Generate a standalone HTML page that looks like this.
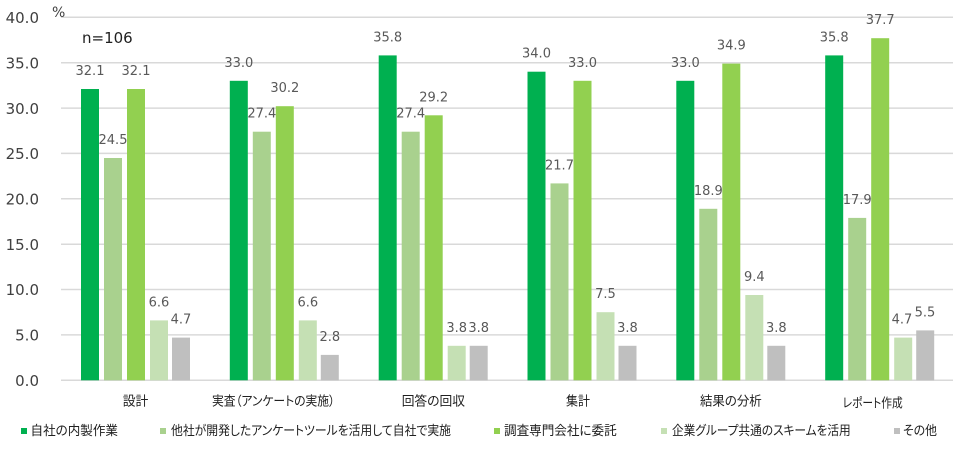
<!DOCTYPE html>
<html><head><meta charset="utf-8"><style>
html,body{margin:0;padding:0;background:#fff;}
svg{display:block;}
.t{font-family:"DejaVu Sans","Liberation Sans",sans-serif;}
.j{font-family:"Liberation Sans","Noto Sans CJK JP",sans-serif;font-feature-settings:"palt" 1;}
</style></head><body>
<svg width="965" height="449" viewBox="0 0 965 449" xmlns="http://www.w3.org/2000/svg">
<g stroke="#d9d9d9" stroke-width="1.5">
<line x1="61" x2="953" y1="17.3" y2="17.3"/>
<line x1="61" x2="953" y1="62.7" y2="62.7"/>
<line x1="61" x2="953" y1="108.1" y2="108.1"/>
<line x1="61" x2="953" y1="153.4" y2="153.4"/>
<line x1="61" x2="953" y1="198.8" y2="198.8"/>
<line x1="61" x2="953" y1="244.2" y2="244.2"/>
<line x1="61" x2="953" y1="289.5" y2="289.5"/>
<line x1="61" x2="953" y1="334.9" y2="334.9"/>
<line x1="61" x2="953" y1="380.3" y2="380.3"/>
</g>
<g class="t" font-size="15" fill="#404040" text-anchor="end">
<text x="39" y="23">40.0</text>
<text x="39" y="68.4">35.0</text>
<text x="39" y="113.8">30.0</text>
<text x="39" y="159.1">25.0</text>
<text x="39" y="204.5">20.0</text>
<text x="39" y="249.9">15.0</text>
<text x="39" y="295.2">10.0</text>
<text x="39" y="340.6">5.0</text>
<text x="39" y="386">0.0</text>
</g>
<text class="t" x="52" y="17" font-size="14" fill="#404040">%</text>
<text class="t" x="82" y="43" font-size="15" fill="#202020">n=106</text>
<g class="j" font-size="13" fill="#202020">
<text x="122.7" y="405.5" textLength="25.6" lengthAdjust="spacingAndGlyphs">設計</text>
<text x="212" y="405.5" textLength="123" lengthAdjust="spacingAndGlyphs">実査（アンケートの実施）</text>
<text x="401.7" y="405.5" textLength="63.3" lengthAdjust="spacingAndGlyphs">回答の回収</text>
<text x="566" y="405.5" textLength="24" lengthAdjust="spacingAndGlyphs">集計</text>
<text x="700" y="405.5" textLength="61.7" lengthAdjust="spacingAndGlyphs">結果の分析</text>
<text x="842.7" y="407.5" textLength="60" lengthAdjust="spacingAndGlyphs">レポート作成</text>
</g>
<g>
<rect x="21" y="428" width="6" height="6" fill="#00b050"/>
<rect x="160" y="428" width="6" height="6" fill="#a9d18e"/>
<rect x="494" y="428" width="6" height="6" fill="#92d050"/>
<rect x="661" y="428" width="6" height="6" fill="#c5e0b4"/>
<rect x="894" y="428" width="6" height="6" fill="#bfbfbf"/>
</g>
<g class="j" font-size="13" fill="#202020">
<text x="30.5" y="435" textLength="87.5" lengthAdjust="spacingAndGlyphs">自社の内製作業</text>
<text x="171" y="435" textLength="280" lengthAdjust="spacingAndGlyphs">他社が開発したアンケートツールを活用して自社で実施</text>
<text x="504" y="435" textLength="112.7" lengthAdjust="spacingAndGlyphs">調査専門会社に委託</text>
<text x="672" y="435" textLength="178.7" lengthAdjust="spacingAndGlyphs">企業グループ共通のスキームを活用</text>
<text x="903" y="435" textLength="34" lengthAdjust="spacingAndGlyphs">その他</text>
</g>
<g>
<rect x="81" y="89.0" width="18" height="291.3" fill="#00b050"/>
<rect x="104" y="158.0" width="18" height="222.3" fill="#a9d18e"/>
<rect x="127" y="89.0" width="18" height="291.3" fill="#92d050"/>
<rect x="150" y="320.4" width="18" height="59.9" fill="#c5e0b4"/>
<rect x="172" y="337.6" width="18" height="42.7" fill="#bfbfbf"/>

<rect x="229.8" y="80.8" width="18" height="299.5" fill="#00b050"/>
<rect x="252.8" y="131.7" width="18" height="248.6" fill="#a9d18e"/>
<rect x="275.8" y="106.2" width="18" height="274.1" fill="#92d050"/>
<rect x="298.8" y="320.4" width="18" height="59.9" fill="#c5e0b4"/>
<rect x="320.8" y="354.9" width="18" height="25.4" fill="#bfbfbf"/>

<rect x="378.7" y="55.4" width="18" height="324.9" fill="#00b050"/>
<rect x="401.7" y="131.7" width="18" height="248.6" fill="#a9d18e"/>
<rect x="424.7" y="115.3" width="18" height="265.0" fill="#92d050"/>
<rect x="447.7" y="345.8" width="18" height="34.5" fill="#c5e0b4"/>
<rect x="469.7" y="345.8" width="18" height="34.5" fill="#bfbfbf"/>

<rect x="527.5" y="71.7" width="18" height="308.6" fill="#00b050"/>
<rect x="550.5" y="183.4" width="18" height="196.9" fill="#a9d18e"/>
<rect x="573.5" y="80.8" width="18" height="299.5" fill="#92d050"/>
<rect x="596.5" y="312.2" width="18" height="68.1" fill="#c5e0b4"/>
<rect x="618.5" y="345.8" width="18" height="34.5" fill="#bfbfbf"/>

<rect x="676.3" y="80.8" width="18" height="299.5" fill="#00b050"/>
<rect x="699.3" y="208.8" width="18" height="171.5" fill="#a9d18e"/>
<rect x="722.3" y="63.6" width="18" height="316.7" fill="#92d050"/>
<rect x="745.3" y="295.0" width="18" height="85.3" fill="#c5e0b4"/>
<rect x="767.3" y="345.8" width="18" height="34.5" fill="#bfbfbf"/>

<rect x="825.2" y="55.4" width="18" height="324.9" fill="#00b050"/>
<rect x="848.2" y="217.9" width="18" height="162.4" fill="#a9d18e"/>
<rect x="871.2" y="38.2" width="18" height="342.1" fill="#92d050"/>
<rect x="894.2" y="337.6" width="18" height="42.7" fill="#c5e0b4"/>
<rect x="916.2" y="330.4" width="18" height="49.9" fill="#bfbfbf"/>
</g>
<g class="t" font-size="13" fill="#595959" text-anchor="middle">
<text x="90" y="75">32.1</text>
<text x="113" y="144">24.5</text>
<text x="136" y="75">32.1</text>
<text x="159" y="306.4">6.6</text>
<text x="181" y="323.6">4.7</text>

<text x="238.8" y="66.8">33.0</text>
<text x="261.8" y="117.7">27.4</text>
<text x="284.8" y="92.2">30.2</text>
<text x="307.8" y="306.4">6.6</text>
<text x="329.8" y="340.9">2.8</text>

<text x="387.7" y="41.4">35.8</text>
<text x="410.7" y="117.7">27.4</text>
<text x="433.7" y="101.3">29.2</text>
<text x="456.7" y="331.8">3.8</text>
<text x="478.7" y="331.8">3.8</text>

<text x="536.5" y="57.7">34.0</text>
<text x="559.5" y="169.4">21.7</text>
<text x="582.5" y="66.8">33.0</text>
<text x="605.5" y="298.2">7.5</text>
<text x="627.5" y="331.8">3.8</text>

<text x="685.3" y="66.8">33.0</text>
<text x="708.3" y="194.8">18.9</text>
<text x="731.3" y="49.6">34.9</text>
<text x="754.3" y="281.0">9.4</text>
<text x="776.3" y="331.8">3.8</text>

<text x="834.2" y="41.4">35.8</text>
<text x="857.2" y="203.9">17.9</text>
<text x="880.2" y="24.2">37.7</text>
<text x="902" y="323.6">4.7</text>
<text x="925" y="316.4">5.5</text>
</g>
</svg>
</body></html>
